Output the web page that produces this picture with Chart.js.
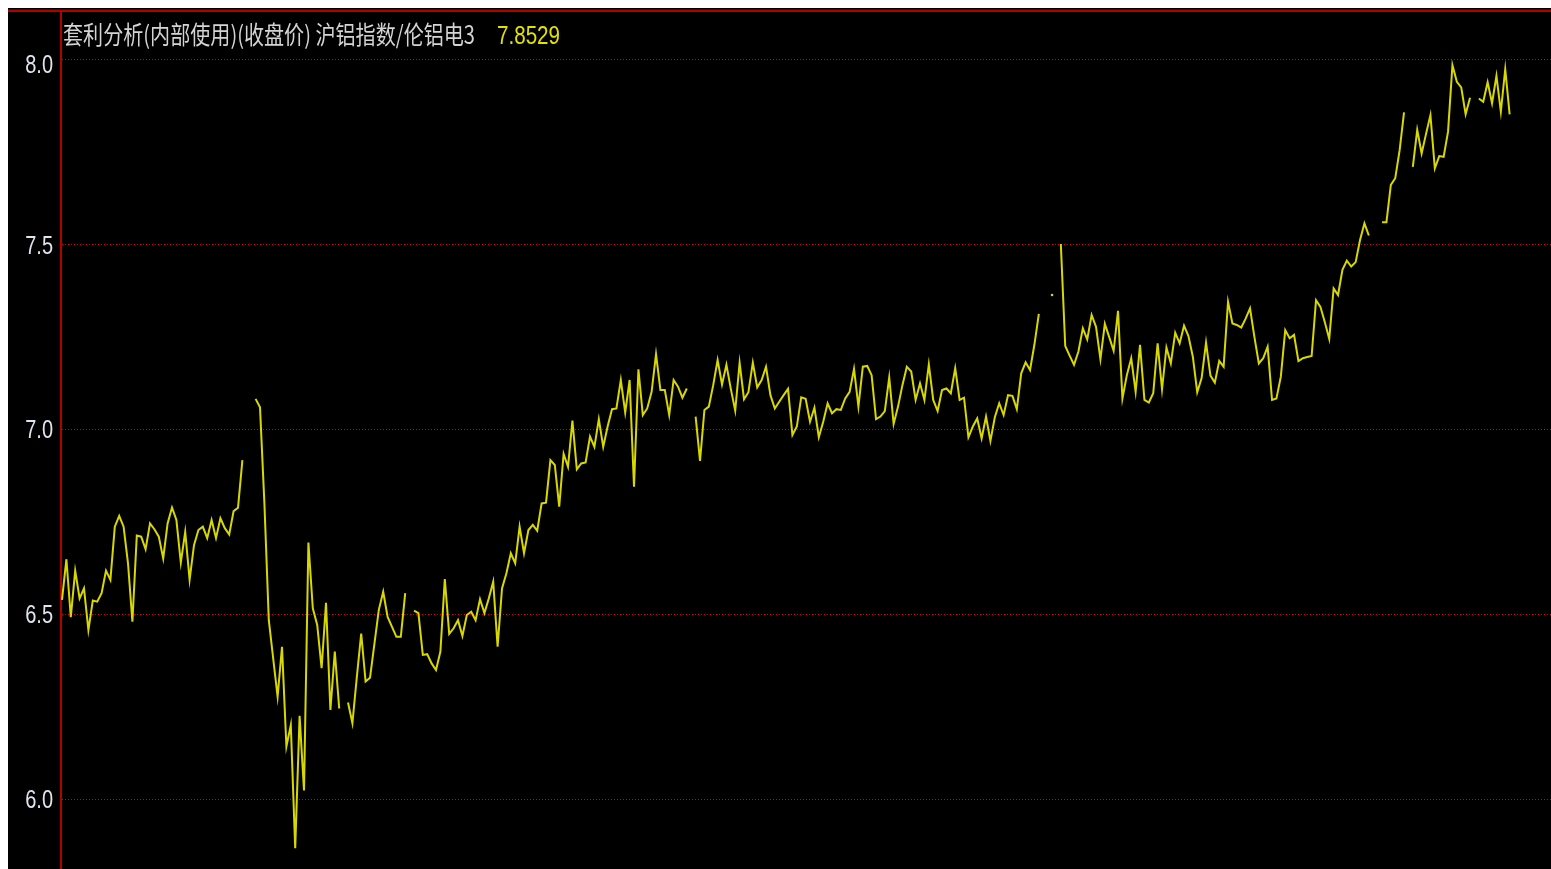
<!DOCTYPE html>
<html><head><meta charset="utf-8">
<script src="https://cdn.jsdelivr.net/npm/chart.js@4/dist/chart.umd.min.js"></script>
<style>
html,body{margin:0;padding:0;background:#fff;width:1551px;height:869px;overflow:hidden}
#wrap{position:absolute;left:8px;top:8px;width:1543px;height:861px;background:#000}
canvas{display:block}
</style></head><body>
<div id="wrap"><canvas id="c" width="1543" height="861"></canvas></div>
<script>
// ---- data ----
const titleText = '套利分析(内部使用)(收盘价) 沪铝指数/伦铝电3';
const lastValueText = '7.8529';
const yTicks = [6.0, 6.5, 7.0, 7.5, 8.0];
const ratio = [
  6.539, 6.649, 6.492, 6.618, 6.543, 6.570, 6.457, 6.537, 6.534, 6.557,
  6.618, 6.593, 6.737, 6.766, 6.737, 6.638, 6.480, 6.713, 6.710, 6.676,
  6.746, 6.730, 6.710, 6.651, 6.746, 6.789, 6.755, 6.640, 6.723, 6.593,
  6.687, 6.728, 6.737, 6.706, 6.755, 6.706, 6.760, 6.733, 6.716, 6.779,
  6.788, 6.917, null, null,
  7.083, 7.060, 6.800, 6.484, 6.380, 6.277, 6.412, 6.142, 6.200, 5.867,
  6.225, 6.023, 6.694, 6.516, 6.471, 6.354, 6.531, 6.241, 6.399, 6.245,
  null,
  6.261, 6.205, 6.330, 6.448, 6.318, 6.328, 6.420, 6.512, 6.561, 6.493,
  6.466, 6.439, 6.439, 6.557,
  null,
  6.510, 6.503, 6.390, 6.392, 6.367, 6.349, 6.399, 6.595, 6.447, 6.462,
  6.484, 6.441, 6.498, 6.507, 6.484, 6.541, 6.503, 6.543, 6.588, 6.412,
  6.570, 6.611, 6.665, 6.638, 6.737, 6.665, 6.728, 6.742, 6.726, 6.800,
  6.802, 6.917, 6.904, 6.791, 6.934, 6.899, 7.024, 6.892, 6.908, 6.911,
  6.981, 6.953, 7.028, 6.953, 7.008, 7.055, 7.057, 7.134, 7.046, 7.134,
  6.845, 7.163, 7.039, 7.057, 7.102, 7.204, 7.107, 7.107, 7.039, 7.134,
  7.116, 7.086, 7.111,
  null,
  7.035, 6.915, 7.053, 7.062, 7.120, 7.188, 7.122, 7.175, 7.110, 7.051,
  7.181, 7.082, 7.101, 7.181, 7.114, 7.134, 7.170, 7.093, 7.057, 7.075,
  7.093, 7.110, 6.985, 7.008, 7.087, 7.083, 7.021, 7.059, 6.979, 7.021,
  7.071, 7.044, 7.055, 7.053, 7.084, 7.102, 7.164, 7.062, 7.170, 7.172,
  7.147, 7.028, 7.035, 7.050, 7.141, 7.015, 7.062, 7.120, 7.170, 7.157,
  7.080, 7.125, 7.080, 7.176, 7.080, 7.050, 7.107, 7.111, 7.098, 7.166,
  7.080, 7.086, 6.979, 7.008, 7.030, 6.976, 7.035, 6.969, 7.033, 7.071,
  7.039, 7.093, 7.091, 7.055, 7.152, 7.182, 7.161, 7.230, 7.313,
  null, null, 7.364, null,
  7.502, 7.226, 7.200, 7.175, 7.211, 7.274, 7.244, 7.310, 7.278, 7.190,
  7.286, 7.250, 7.213, 7.321, 7.084, 7.147, 7.193, 7.102, 7.229, 7.080,
  7.073, 7.098, 7.233, 7.109, 7.222, 7.179, 7.262, 7.233, 7.281, 7.253,
  7.197, 7.101, 7.139, 7.235, 7.146, 7.127, 7.186, 7.170, 7.346, 7.287,
  7.283, 7.276, 7.300, 7.328, 7.250, 7.179, 7.193, 7.224, 7.080, 7.084,
  7.143, 7.269, 7.247, 7.256, 7.185, 7.193, 7.196, 7.199, 7.350, 7.332,
  7.290, 7.245, 7.382, 7.364, 7.432, 7.457, 7.441, 7.453, 7.513, 7.558,
  7.525,
  null, null,
  7.561, 7.561, 7.662, 7.680, 7.756, 7.858,
  null,
  7.711, 7.811, 7.747, 7.800, 7.851, 7.707, 7.740, 7.738, 7.806, 7.986,
  7.941, 7.926, 7.853, 7.898,
  null,
  7.896, 7.887, 7.940, 7.883, 7.957, 7.860, 7.975, 7.853
];
const sessions = ratio.map((_, i) => i);

// ---- drawing ----
const overlay = {
  id: 'overlay',
  afterDraw(chart) {
    const ctx = chart.ctx;
    const ys = chart.scales.y;
    const area = chart.chartArea;
    ctx.save();
    // top red frame line
    ctx.fillStyle = '#b00000';
    ctx.fillRect(0, 1.5, chart.width, 2.5);
    // y tick labels
    ctx.fillStyle = '#dfe5ee';
    ctx.font = '25px "Liberation Sans", Arial, sans-serif';
    ctx.textAlign = 'right';
    ctx.textBaseline = 'middle';
    yTicks.forEach(v => {
      const gy = ys.getPixelForValue(v);
      const cy = Math.max(gy + 2, area.top + 54);
      ctx.save();
      ctx.translate(45, cy);
      ctx.scale(0.8, 1);
      ctx.fillText(v.toFixed(1), 0, 0);
      ctx.restore();
    });
    // title
    ctx.textAlign = 'left';
    ctx.textBaseline = 'alphabetic';
    ctx.font = '25px "Noto Sans CJK SC", sans-serif';
    const tw = ctx.measureText(titleText).width;
    ctx.save();
    ctx.translate(55, 36);
    ctx.scale(412 / tw, 1);
    ctx.fillStyle = '#d4d4d4';
    ctx.fillText(titleText, 0, 0);
    ctx.restore();
    ctx.font = '25px "Liberation Sans", Arial, sans-serif';
    const vw = ctx.measureText(lastValueText).width;
    ctx.save();
    ctx.translate(489, 35.5);
    ctx.scale(63 / vw, 1);
    ctx.fillStyle = '#e2e200';
    ctx.fillText(lastValueText, 0, 0);
    ctx.restore();
    ctx.restore();
  }
};

new Chart(document.getElementById('c'), {
  type: 'line',
  data: {
    labels: sessions,
    datasets: [{
      data: ratio,
      borderColor: '#d8d800',
      backgroundColor: '#d8d800',
      borderWidth: 2,
      tension: 0,
      spanGaps: false,
      pointRadius: c => {
        const i = c.dataIndex;
        const d = ratio;
        return (d[i] !== null && d[i - 1] == null && d[i + 1] == null) ? 1.3 : 0;
      },
      pointBorderWidth: 0,
      pointHoverRadius: 0
    }]
  },
  options: {
    responsive: false,
    animation: false,
    events: [],
    layout: { padding: { top: 4, left: 0, right: 0, bottom: 0 } },
    plugins: { legend: { display: false }, tooltip: { enabled: false }, title: { display: false } },
    scales: {
      x: { type: 'linear', display: false, min: -0.227, max: 338.4 },
      y: {
        position: 'left',
        min: 5.8106,
        max: 8.1299,
        afterFit: s => { s.width = 53; },
        afterBuildTicks: s => { s.ticks = yTicks.map(v => ({ value: v })); },
        ticks: { display: false },
        grid: { color: '#dd0000', lineWidth: 1, drawTicks: false },
        border: { display: true, color: '#b00000', width: 2, dash: [1, 2] }
      }
    }
  },
  plugins: [overlay]
});
</script>
</body></html>
